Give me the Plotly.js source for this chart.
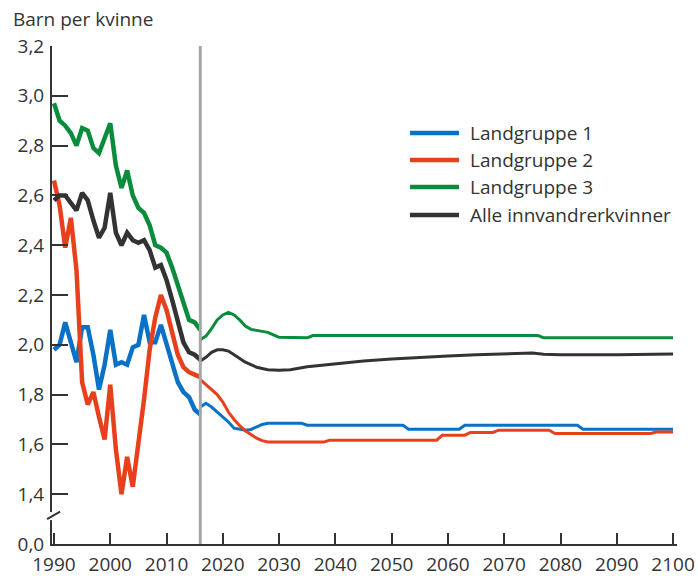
<!DOCTYPE html>
<html>
<head>
<meta charset="utf-8">
<script src="https://cdn.plot.ly/plotly-3.0.1.min.js"></script>
<style>html,body{margin:0;padding:0;background:#fff;}#chart{width:698px;height:576px;}</style>
</head>
<body>
<div id="chart"></div>
<script>
// Historical (observed) period
const histYears = [1990,1991,1992,1993,1994,1995,1996,1997,1998,1999,2000,2001,2002,2003,2004,2005,2006,2007,2008,2009,2010,2011,2012,2013,2014,2015,2016];
const histBlue  = [1.98,2.00,2.09,2.01,1.93,2.07,2.07,1.96,1.82,1.92,2.06,1.92,1.93,1.92,1.99,2.00,2.12,2.01,2.01,2.08,2.00,1.92,1.85,1.81,1.79,1.74,1.72];
const histRed   = [2.66,2.56,2.39,2.51,2.30,1.85,1.76,1.81,1.71,1.62,1.84,1.58,1.40,1.55,1.43,1.60,1.78,1.98,2.11,2.20,2.14,2.05,1.96,1.91,1.89,1.88,1.87];
const histGreen = [2.97,2.90,2.88,2.85,2.80,2.87,2.86,2.79,2.77,2.83,2.89,2.72,2.63,2.70,2.60,2.55,2.53,2.48,2.40,2.39,2.37,2.31,2.24,2.16,2.10,2.09,2.06];
const histBlack = [2.58,2.60,2.60,2.57,2.54,2.61,2.58,2.50,2.43,2.47,2.61,2.45,2.40,2.45,2.42,2.41,2.42,2.38,2.31,2.32,2.26,2.18,2.09,2.01,1.97,1.96,1.94];

// Projections
const projYearsBlue = [2016,2017,2018,2019,2020,2021,2022,2023,2024,2025,2026,2027,2028,2034,2035,2052,2053,2062,2063,2083,2084,2100];
const projBlue      = [1.75,1.765,1.75,1.73,1.71,1.69,1.665,1.66,1.657,1.66,1.67,1.68,1.685,1.685,1.677,1.677,1.661,1.661,1.677,1.677,1.661,1.661];
const projYearsRed  = [2016,2017,2018,2019,2020,2021,2022,2023,2024,2025,2026,2027,2028,2038,2039,2058,2059,2063,2064,2068,2069,2078,2079,2096,2097,2100];
const projRed       = [1.86,1.84,1.82,1.80,1.77,1.73,1.70,1.675,1.655,1.64,1.625,1.615,1.61,1.61,1.617,1.617,1.637,1.637,1.648,1.648,1.657,1.657,1.644,1.644,1.65,1.65];
const projYearsGreen = [2016,2017,2018,2019,2020,2021,2022,2023,2024,2025,2026,2027,2028,2029,2030,2035,2036,2076,2077,2100];
const projGreen      = [2.02,2.035,2.065,2.10,2.12,2.13,2.12,2.10,2.075,2.062,2.058,2.055,2.05,2.04,2.03,2.028,2.037,2.037,2.028,2.028];
const projYearsBlack = [2016,2017,2018,2019,2020,2021,2022,2023,2024,2025,2026,2027,2028,2030,2032,2035,2040,2045,2050,2055,2060,2065,2070,2075,2077,2080,2090,2096,2100];
const projBlack      = [1.935,1.95,1.97,1.98,1.98,1.975,1.96,1.945,1.93,1.92,1.91,1.905,1.90,1.898,1.90,1.912,1.925,1.935,1.943,1.95,1.955,1.96,1.965,1.967,1.962,1.96,1.96,1.96,1.963];

const seriesNames = ['Landgruppe 1','Landgruppe 2','Landgruppe 3','Alle innvandrerkvinner'];
const colors = ['#0a72c6','#e8401c','#0a8c3c','#333333'];

const yTickVals = [1.2,1.4,1.6,1.8,2.0,2.2,2.4,2.6,2.8,3.0,3.2];
const yTickText = ['0,0','1,4','1,6','1,8','2,0','2,2','2,4','2,6','2,8','3,0','3,2'];
const xTickVals = [1990,2000,2010,2020,2030,2040,2050,2060,2070,2080,2090,2100];
const splitYear = 2016;

const hist = [histBlue, histRed, histGreen, histBlack];
const projX = [projYearsBlue, projYearsRed, projYearsGreen, projYearsBlack];
const projY = [projBlue, projRed, projGreen, projBlack];

const traces = [];
for (let i = 0; i < 4; i++) {
  traces.push({x: histYears, y: hist[i], type: 'scatter', mode: 'lines', name: seriesNames[i],
    line: {color: colors[i], width: 4.5}, showlegend: false, hoverinfo: 'x+y+name'});
  traces.push({x: projX[i], y: projY[i], type: 'scatter', mode: 'lines', name: seriesNames[i],
    line: {color: colors[i], width: 3}, showlegend: false, hoverinfo: 'x+y+name'});
}

// manual legend
const shapes = [];
const annotations = [];
const legY = [0.8253, 0.7711, 0.7169, 0.6606];
for (let i = 0; i < 4; i++) {
  shapes.push({type: 'line', xref: 'paper', yref: 'paper', x0: 0.5728, x1: 0.6512, y0: legY[i], y1: legY[i],
    line: {color: colors[i], width: 4.5}});
  annotations.push({xref: 'paper', yref: 'paper', x: 0.6656, y: legY[i], xanchor: 'left', yanchor: 'middle',
    text: seriesNames[i], showarrow: false, font: {family: 'Open Sans, sans-serif', size: 19, color: '#333'}});
}
// vertical divider
shapes.push({type: 'line', xref: 'x', yref: 'paper', x0: splitYear, x1: splitYear, y0: 0, y1: 1,
  line: {color: '#a6a6a6', width: 3}, layer: 'above'});
// axis break
shapes.push({type: 'rect', xref: 'paper', yref: 'y', x0: -0.008, x1: 0.008, y0: 1.296, y1: 1.328,
  line: {width: 0}, fillcolor: '#ffffff', layer: 'above'});
shapes.push({type: 'line', xref: 'paper', yref: 'y', x0: -0.008, x1: 0.013, y0: 1.30, y1: 1.33,
  line: {color: '#333', width: 2}, layer: 'above'});

const layout = {
  width: 698, height: 576,
  margin: {l: 52, r: 21, t: 46, b: 32},
  paper_bgcolor: '#ffffff', plot_bgcolor: '#ffffff',
  font: {family: 'Open Sans, sans-serif', color: '#333'},
  title: {text: 'Barn per kvinne', xref: 'container', yref: 'container', x: 13/698, xanchor: 'left',
    y: 1 - 19/576, yanchor: 'middle', font: {family: 'Open Sans, sans-serif', size: 19, color: '#333'}},
  xaxis: {range: [1989.65, 2100.7], tickmode: 'array', tickvals: xTickVals, ticks: 'inside', ticklen: 11,
    tickwidth: 2, tickcolor: '#333', showline: true, linecolor: '#333', linewidth: 2, showgrid: false,
    zeroline: false, tickfont: {size: 19, color: '#333'}, ticklabelstandoff: 2, fixedrange: true},
  yaxis: {range: [1.2, 3.2], tickmode: 'array', tickvals: yTickVals, ticktext: yTickText, ticks: 'inside',
    ticklen: 16, tickwidth: 2, tickcolor: '#333', showline: true, linecolor: '#333', linewidth: 2,
    showgrid: false, zeroline: false, tickfont: {size: 19, color: '#333'}, ticklabelstandoff: 2, fixedrange: true},
  shapes: shapes,
  annotations: annotations,
  showlegend: false
};

Plotly.newPlot('chart', traces, layout, {displayModeBar: false, staticPlot: true});
</script>
</body>
</html>
